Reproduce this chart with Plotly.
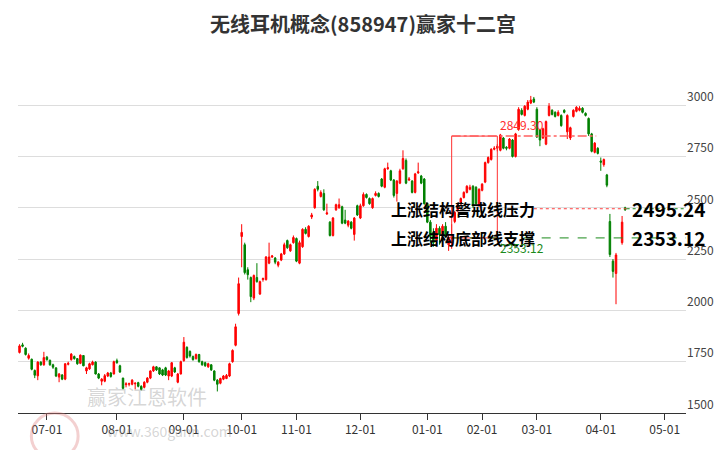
import plotly.graph_objects as go

opens = [1795,1832,1816,1767,1762,1707,1681,1748,1735,1772,1757,1735,1720,1675,1685,1665,1737,1760,1775,1765,
         1742,1780,1705,1715,1735,1748,1690,1655,1655,1680,1695,1690,1755,1730,1670,1638,1640,1640,1642,1648,
         1630,1625,1650,1670,1705,1725,1720,1710,1720,1680,1680,1720,1650,1690,1755,1820,1800,1775,1765,1785,
         1750,1745,1725,1735,1705,1660,1645,1665,1668,1680,1750,1830,1985,2360,2320,2198,2160,2060,2160,2080,
         2150,2150,2230,2260,2255,2220,2245,2275,2340,2290,2330,2350,2230,2310,2395,2360,2455,2500,2605,2555,
         2570,2470,2430,2365,2490,2500,2505,2440,2415,2430,2370,2510,2450,2510,2565,2545,2500,2560,2570,2640,
         2600,2690,2680,2635,2570,2620,2690,2730,2635,2630,2575,2670,2655,2640,2520,2430,2380,2340,2400,2370,
         2410,2320,2350,2433,2490,2520,2550,2575,2590,2605,2600,2510,2585,2625,2720,2735,2785,2790,2780,2840,
         2795,2790,2830,2750,2882,2975,2950,2980,3010,3030,2980,2880,2840,2810,2950,2975,2965,2950,2950,2975,
         2870,2840,2945,2970,2975,2985,2960,2935,2860,2770,2790,2728,2710,2660,2433,2240,2180,None,2330,2500]
closes = [1827,1825,1785,1780,1713,1684,1748,1735,1770,1760,1735,1723,1680,1690,1665,1740,1742,1787,1765,1740,
          1782,1730,1720,1740,1748,1690,1670,1665,1682,1695,1678,1750,1745,1700,1620,1642,1643,1660,1645,1630,
          1615,1650,1670,1705,1725,1710,1690,1685,1685,1705,1745,1700,1690,1750,1845,1770,1778,1760,1785,1750,
          1735,1730,1740,1710,1660,1640,1668,1680,1683,1740,1805,1920,2130,2380,2184,2174,2067,2170,2140,2140,
          2155,2260,2260,2265,2235,2235,2275,2320,2305,2320,2355,2240,2330,2395,2375,2410,2465,2590,2590,2575,
          2490,2475,2365,2450,2515,2515,2425,2425,2435,2400,2450,2465,2510,2565,2550,2520,2545,2570,2555,2605,
          2690,2695,2635,2560,2630,2680,2740,2620,2640,2575,2665,2675,2620,2520,2430,2360,2330,2400,2370,2410,
          2360,2355,2360,2477,2515,2545,2575,2605,2600,2510,2520,2590,2615,2720,2745,2785,2790,2800,2855,2790,
          2790,2835,2750,2860,2980,2955,2995,3015,3025,3015,2845,2830,2885,2920,2995,2955,2945,2965,2900,2965,
          2950,2890,2975,2990,2985,2965,2950,2860,2775,2815,2765,2722,2735,2610,2272,2190,2270,None,2430,2490]
highs = [1835,1842,1820,1790,1765,1712,1752,1752,1798,1778,1760,1740,1722,1695,1690,1742,1750,1792,1780,1768,
         1785,1782,1725,1745,1755,1752,1695,1670,1690,1700,1700,1755,1765,1735,1672,1650,1648,1665,1650,1652,
         1635,1655,1675,1708,1730,1728,1722,1715,1725,1710,1748,1725,1695,1755,1870,1825,1805,1780,1790,1788,
         1755,1750,1745,1738,1708,1665,1672,1685,1690,1745,1810,1935,2160,2420,2330,2210,2165,2175,2230,2145,
         2160,2265,2330,2270,2260,2240,2280,2330,2345,2325,2365,2355,2340,2400,2405,2415,2475,2595,2630,2585,
         2590,2520,2435,2455,2520,2545,2510,2490,2440,2435,2455,2515,2520,2575,2570,2550,2550,2580,2575,2645,
         2695,2720,2685,2640,2635,2690,2780,2740,2650,2635,2670,2720,2660,2645,2525,2440,2400,2420,2410,2420,
         2430,2370,2420,2485,2520,2550,2580,2610,2612,2610,2605,2595,2620,2725,2750,2790,2800,2810,2860,2845,
         2800,2840,2835,2865,2990,2985,3000,3025,3045,3040,2990,2885,2890,2925,3010,2980,2970,2975,2955,2980,
         2955,2895,2980,2995,2995,2990,2965,2940,2865,2820,2795,2745,2740,2665,2470,2250,2280,None,2460,2505]
lows = [1790,1820,1780,1760,1708,1670,1660,1730,1730,1755,1730,1715,1675,1650,1660,1660,1732,1755,1760,1735,
        1738,1728,1690,1710,1732,1688,1665,1635,1650,1675,1672,1688,1740,1695,1615,1625,1630,1635,1615,1625,
        1610,1620,1645,1665,1700,1705,1685,1680,1680,1660,1675,1695,1645,1688,1750,1765,1770,1755,1760,1745,
        1730,1725,1720,1705,1655,1605,1640,1660,1665,1675,1745,1825,1975,2210,2175,2150,2040,2050,2135,2075,
        2140,2145,2225,2255,2225,2210,2240,2270,2300,2285,2325,2235,2225,2305,2370,2355,2445,2495,2580,2550,
        2485,2465,2360,2360,2485,2495,2420,2420,2405,2395,2340,2460,2445,2505,2545,2515,2495,2555,2550,2600,
        2595,2685,2630,2550,2530,2615,2685,2615,2630,2570,2570,2665,2615,2515,2425,2330,2310,2335,2320,2365,
        2355,2290,2300,2425,2480,2515,2545,2570,2585,2500,2515,2505,2580,2620,2715,2730,2780,2775,2775,2785,
        2780,2785,2745,2745,2875,2950,2945,2975,3005,3010,2840,2800,2835,2805,2945,2950,2940,2945,2895,2960,
        2835,2830,2940,2965,2970,2960,2945,2850,2770,2765,2760,2680,2700,2600,2260,2160,2030,None,2320,2485]

tick_pos = [9, 32, 54, 73, 91, 112, 134, 152, 170, 191, 212]
tick_text = ["07-01", "08-01", "09-01", "10-01", "11-01", "12-01", "01-01", "02-01", "03-01", "04-01", "05-01"]
y_ticks = [1500, 1750, 2000, 2250, 2500, 2750, 3000]

resist = 2495.24
support = 2353.12
top_price = 2849.30
box_x0, box_x1, top_line_end = 142, 157, 189.5

days = list(range(len(opens)))
keep = [i for i in days if opens[i] is not None]
xd = [days[i] for i in keep]

fig = go.Figure(go.Candlestick(
    x=xd, open=[opens[i] for i in keep], high=[highs[i] for i in keep],
    low=[lows[i] for i in keep], close=[closes[i] for i in keep],
    increasing=dict(line=dict(color="#ff0000", width=1), fillcolor="#ff0000"),
    decreasing=dict(line=dict(color="#008000", width=1), fillcolor="#008000"),
    whiskerwidth=0, showlegend=False, hoverinfo="skip"))

shapes = [
    dict(type="rect", xref="x", yref="y", x0=box_x0, x1=box_x1, y0=support, y1=top_price,
         line=dict(color="#ff3030", width=1)),
    dict(type="line", xref="x", yref="y", x0=box_x0, x1=top_line_end, y0=top_price, y1=top_price,
         line=dict(color="#ff6060", width=1.5, dash="dashdot")),
    dict(type="line", xref="x", yref="y", x0=box_x0, x1=232, y0=support, y1=support,
         line=dict(color="#1a8a1a", width=1, dash="dash")),
    dict(type="line", xref="x", yref="y", x0=169, x1=199.5, y0=resist, y1=resist,
         line=dict(color="#ff4040", width=1, dash="dot")),
    dict(type="line", xref="x", yref="y", x0=199.5, x1=232, y0=resist, y1=resist,
         line=dict(color="#1a8a1a", width=1, dash="dot")),
    dict(type="circle", xref="paper", yref="paper", x0=0.02, x1=0.09, y0=-0.13, y1=0.0,
         line=dict(color="rgba(220,120,120,0.35)", width=3)),
]

ann = [
    dict(x=121.5, y=resist, text="<b>上涨结构警戒线压力</b>", xanchor="left", showarrow=False,
         font=dict(size=16, color="#000")),
    dict(x=121.5, y=support, text="<b>上涨结构底部线支撑</b>", xanchor="left", showarrow=False,
         font=dict(size=16, color="#000")),
    dict(x=200.5, y=resist, text="<b>2495.24</b>", xanchor="left", showarrow=False,
         font=dict(size=19, color="#000")),
    dict(x=200.5, y=support, text="<b>2353.12</b>", xanchor="left", showarrow=False,
         font=dict(size=19, color="#000")),
    dict(x=165, y=2905, text="2849.30", showarrow=False, font=dict(size=12, color="#ff3030")),
    dict(x=165, y=2308, text="2353.12", showarrow=False, font=dict(size=12, color="#1a8a1a")),
    dict(xref="paper", yref="paper", x=0.1, y=0.0, text="赢家江恩软件", xanchor="left", yanchor="bottom",
         showarrow=False, font=dict(size=20, color="rgba(150,150,150,0.4)")),
    dict(xref="paper", yref="paper", x=0.13, y=-0.085, text="www.360gann.com", xanchor="left",
         showarrow=False, font=dict(size=14, color="rgba(150,150,150,0.4)")),
]

fig.update_layout(
    width=726, height=450, paper_bgcolor="white", plot_bgcolor="white",
    margin=dict(l=18, r=36, t=60, b=37),
    title=dict(text="<b>无线耳机概念(858947)赢家十二宫</b>", x=0.5, xanchor="center", y=0.944,
               yanchor="middle", font=dict(size=20, color="#333", family="Noto Sans CJK SC")),
    font=dict(family="Noto Sans CJK SC"),
    shapes=shapes, annotations=ann,
    xaxis=dict(range=[-0.5, 219], tickvals=tick_pos, ticktext=tick_text, showgrid=False,
               showline=True, linecolor="#333", ticks="outside", ticklen=6, tickcolor="#333",
               tickfont=dict(size=12, color="#333"), rangeslider=dict(visible=False), zeroline=False),
    yaxis=dict(range=[1500, 3220], tickvals=y_ticks, side="right", showgrid=True, gridcolor="#dddddd",
               zeroline=False, ticklabelposition="outside top", tickfont=dict(size=12, color="#444")),
)
fig.write_html("out.html", config={"displayModeBar": False})
with open("out.html", encoding="utf-8") as f:
    html = f.read()
html = html.replace("<body>", '<body style="margin:0;overflow:hidden">', 1)
with open("out.html", "w", encoding="utf-8") as f:
    f.write(html)
